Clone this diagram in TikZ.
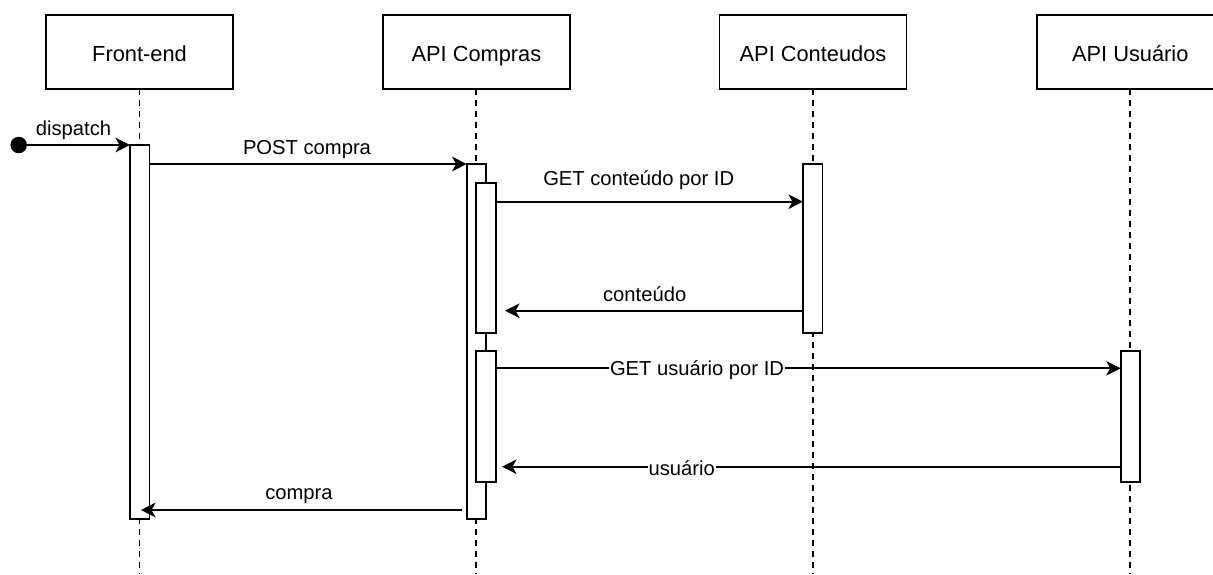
\documentclass[tikz,border=0pt]{standalone}
\usepackage{fontspec}
\setmainfont{Liberation Sans}
\usetikzlibrary{arrows.meta}
\tikzset{
  head/.style={draw, line width=1.9pt, fill=white, minimum width=187pt, minimum height=74.6pt, inner sep=0pt, outer sep=0pt, text height=18pt, text depth=0pt, font=\fontsize{21.8}{26}\selectfont},
  act/.style={draw, line width=1.9pt, fill=white, minimum width=19.5pt, inner sep=0pt, outer sep=0pt, anchor=north west},
  life/.style={line width=1.9pt, dash pattern=on 6pt off 5pt},
  msg/.style={line width=1.9pt, -{Stealth[length=14.5pt, width=14.5pt, inset=4pt]}},
  lbl/.style={anchor=base, inner sep=1pt, font=\fontsize{20.2}{24}\selectfont},
}
\begin{document}
\begin{tikzpicture}[x=1pt, y=-1pt]
\useasboundingbox (0,0) rectangle (1213,574);
% headers
\node[head] (fe) at (139.5,52) {Front-end};
\node[head] (comp) at (476.4,52) {API Compras};
\node[head] (cont) at (813,52) {API Conteudos};
\node[head] (usr) at (1130.3,52) {API Usuário};
% lifelines
\coordinate (feEnd) at (139.5,574);
\coordinate (compEnd) at (476.4,574);
\coordinate (contEnd) at (813,574);
\coordinate (usrEnd) at (1130.3,574);
\draw[life] (fe.south) -- (feEnd);
\draw[life] (comp.south) -- (compEnd);
\draw[life] (cont.south) -- (contEnd);
\draw[life] (usr.south) -- (usrEnd);
% activations
\node[act, minimum height=374pt] (actFE) at (130,145) {};
\node[act, minimum height=355pt] (actComp) at (466.7,164) {};
\node[act, minimum height=150pt] (actComp1) at (476.3,182.7) {};
\node[act, minimum height=131pt] (actComp2) at (476.3,351) {};
\node[act, minimum height=168.7pt] (actCont) at (803,164) {};
\node[act, minimum height=131.3pt] (actUsr) at (1120.7,350.7) {};
% dispatch
\node[circle, fill=black, minimum size=16.5pt, inner sep=0pt] (dot) at (18.7,145) {};
\draw[msg] (dot.center) -- (actFE.west |- dot.center);
\node[lbl] (ldispatch) at (73.5,135) {dispatch};
% POST compra
\draw[msg] (actFE.east |- 0,164) -- (actComp.west |- 0,164);
\node[lbl] (lpost) at (307,154) {POST compra};
% GET conteudo
\draw[msg] (actComp1.east |- 0,201.7) -- (actCont.west |- 0,201.7);
\node[lbl] (lgetc) at (638.7,185) {GET conteúdo por ID};
% conteudo
\coordinate (retC) at (505,310.7);
\draw[msg] (actCont.west |- retC) -- (retC);
\node[lbl] (lcont) at (644.7,301) {conteúdo};
% GET usuario
\draw[msg] (actComp2.east |- 0,368.3) -- (actUsr.west |- 0,368.3);
\node[lbl, fill=white] (lgetu) at (697,375.7) {GET usuário por ID};
% usuario
\coordinate (retU) at (502,466.7);
\draw[msg] (actUsr.west |- retU) -- (retU);
\node[lbl, fill=white] (lusr) at (681.7,475) {usuário};
% compra
\coordinate (compraStart) at (461.7,510);
\coordinate (compraEnd) at (141,510);
\draw[msg] (compraStart) -- (compraEnd);
\node[lbl] (lcompra) at (299,499.3) {compra};
\end{tikzpicture}
\end{document}
